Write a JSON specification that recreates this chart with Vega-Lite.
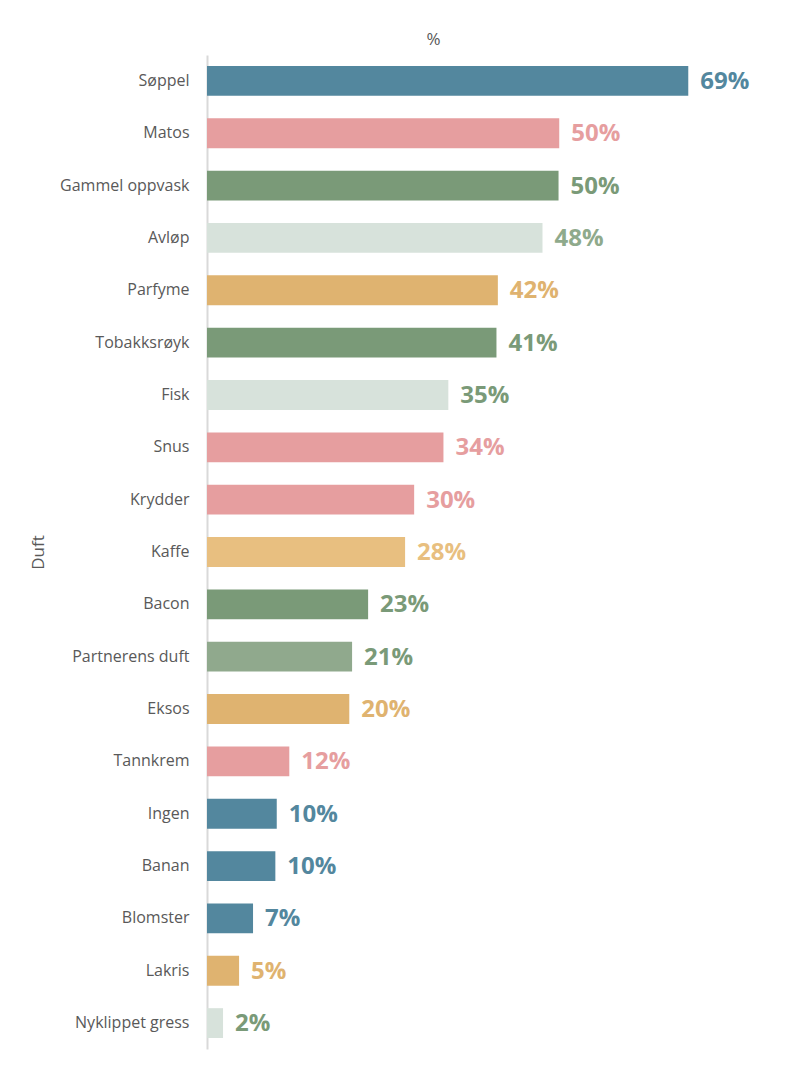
{
  "$schema": "https://vega.github.io/schema/vega-lite/v6.json",
  "width": 558,
  "height": 994,
  "autosize": "none",
  "padding": {"left": 207, "top": 55, "right": 24, "bottom": 24},
  "background": "white",
  "config": {"view": {"stroke": null}, "font": "Open Sans"},
  "data": {
    "values": [
      {"duft": "Søppel", "pct": 69.0, "label": "69%", "bar": "#53879E", "txt": "#53879E"},
      {"duft": "Matos", "pct": 50.5, "label": "50%", "bar": "#E69E9F", "txt": "#E69E9F"},
      {"duft": "Gammel oppvask", "pct": 50.4, "label": "50%", "bar": "#7A9A78", "txt": "#7A9A78"},
      {"duft": "Avløp", "pct": 48.1, "label": "48%", "bar": "#D7E2DB", "txt": "#8FAA8C"},
      {"duft": "Parfyme", "pct": 41.7, "label": "42%", "bar": "#DFB370", "txt": "#DFB370"},
      {"duft": "Tobakksrøyk", "pct": 41.5, "label": "41%", "bar": "#7A9A78", "txt": "#7A9A78"},
      {"duft": "Fisk", "pct": 34.6, "label": "35%", "bar": "#D7E2DB", "txt": "#7A9A78"},
      {"duft": "Snus", "pct": 33.9, "label": "34%", "bar": "#E69E9F", "txt": "#E69E9F"},
      {"duft": "Krydder", "pct": 29.7, "label": "30%", "bar": "#E69E9F", "txt": "#E69E9F"},
      {"duft": "Kaffe", "pct": 28.4, "label": "28%", "bar": "#E8BF80", "txt": "#E8BF80"},
      {"duft": "Bacon", "pct": 23.1, "label": "23%", "bar": "#7A9A78", "txt": "#7A9A78"},
      {"duft": "Partnerens duft", "pct": 20.8, "label": "21%", "bar": "#90A98D", "txt": "#7A9A78"},
      {"duft": "Eksos", "pct": 20.4, "label": "20%", "bar": "#DFB370", "txt": "#DFB370"},
      {"duft": "Tannkrem", "pct": 11.8, "label": "12%", "bar": "#E69E9F", "txt": "#E69E9F"},
      {"duft": "Ingen", "pct": 10.0, "label": "10%", "bar": "#53879E", "txt": "#53879E"},
      {"duft": "Banan", "pct": 9.8, "label": "10%", "bar": "#53879E", "txt": "#53879E"},
      {"duft": "Blomster", "pct": 6.6, "label": "7%", "bar": "#53879E", "txt": "#53879E"},
      {"duft": "Lakris", "pct": 4.6, "label": "5%", "bar": "#DFB370", "txt": "#DFB370"},
      {"duft": "Nyklippet gress", "pct": 2.3, "label": "2%", "bar": "#D7E2DB", "txt": "#7A9A78"}
    ]
  },
  "encoding": {
    "y": {
      "field": "duft",
      "type": "nominal",
      "sort": null,
      "scale": {"paddingInner": 0.43, "paddingOuter": 0.21},
      "axis": {
        "title": "Duft",
        "titleFont": "Open Sans",
        "titleFontSize": 17,
        "titleFontWeight": "normal",
        "titleColor": "#595959",
        "titleX": -160,
        "titleY": 497,
        "titleAngle": -90,
        "titleBaseline": "bottom",
        "labelFont": "Open Sans",
        "labelFontSize": 16,
        "labelColor": "#595959",
        "labelPadding": 18,
        "ticks": false,
        "domainColor": "#D9D9D9",
        "domainWidth": 2,
        "grid": false
      }
    },
    "x": {
      "field": "pct",
      "type": "quantitative",
      "scale": {"domain": [0, 80], "nice": false},
      "axis": {
        "orient": "top",
        "title": "%",
        "titleFont": "Open Sans",
        "titleFontSize": 17,
        "titleFontWeight": "normal",
        "titleColor": "#595959",
        "titleX": 226,
        "titleY": -7,
        "titleBaseline": "bottom",
        "labels": false,
        "ticks": false,
        "domain": false,
        "grid": false
      }
    }
  },
  "layer": [
    {
      "mark": {"type": "bar"},
      "encoding": {"color": {"field": "bar", "type": "nominal", "scale": null}}
    },
    {
      "mark": {"type": "text", "align": "left", "baseline": "middle", "dx": 12, "dy": 1, "fontSize": 24, "fontWeight": "bold", "font": "Open Sans"},
      "encoding": {
        "text": {"field": "label"},
        "color": {"field": "txt", "type": "nominal", "scale": null}
      }
    }
  ]
}
